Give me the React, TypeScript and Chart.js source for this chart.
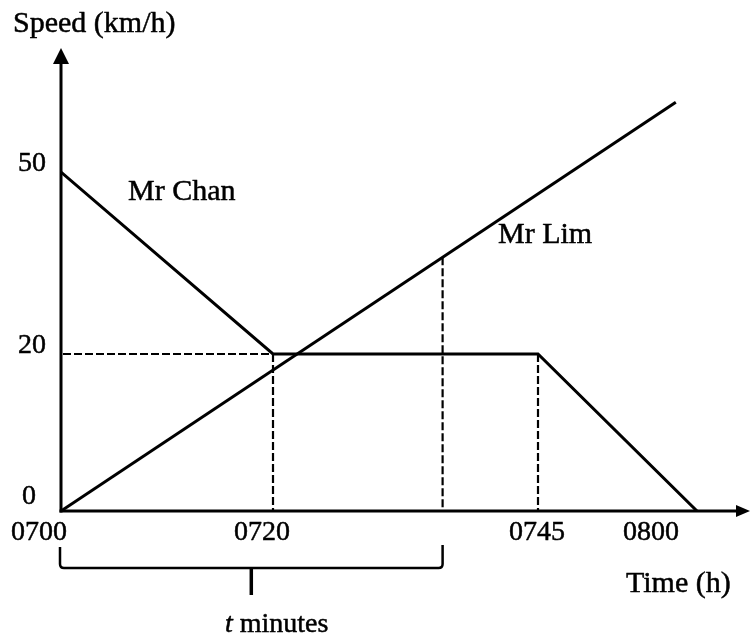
import { useEffect, useRef } from "react";
import { Chart, registerables, LinearScale } from "chart.js";

Chart.register(...registerables);

// ---- data (minutes after 0700, speed in km/h) ----
const chanTimes = [0, 20, 45, 60];
const chanSpeeds = [50, 20, 20, 0];
const limTimes = [0, 58];
const limSpeeds = [0, 61.5];
const tMinutes = 36;
const yTickValues = [0, 20, 50];
const yTickLabels = ["0", "20", "50"];
const xTickValues = [0, 20, 45, 60];
const xTickLabels = ["0700", "0720", "0745", "0800"];
const yTitle = "Speed (km/h)";
const xTitle = "Time (h)";
const seriesNames = ["Mr Chan", "Mr Lim"];
const bracketText = ["t", " minutes"];

// ---- the sketch is not drawn to scale: piecewise speed axis ----
const warpBreak = 20;
const warpLow = 23.16 / 20;
const warpHigh = 0.8947;
function warp(v: number) {
  return v <= warpBreak ? v * warpLow : warpBreak * warpLow + (v - warpBreak) * warpHigh;
}
function unwarp(w: number) {
  const b = warpBreak * warpLow;
  return w <= b ? w / warpLow : warpBreak + (w - b) / warpHigh;
}

class SketchScale extends LinearScale {
  static id = "sketch";
  static defaults = {};
  getPixelForValue(value: any) {
    return super.getPixelForValue(value == null ? value : warp(value));
  }
  getValueForPixel(pixel: number) {
    return unwarp(super.getValueForPixel(pixel) as number);
  }
}
Chart.register(SketchScale as any);

// ---- layout / style ----
const FAMILY = '"Liberation Serif", "Times New Roman", serif';
const FONT_TEXT = "30px " + FAMILY;
const FONT_NUM = "28px " + FAMILY;
const FONT_ITALIC = "italic 28px " + FAMILY;
const yLabelDx = [-25, -15, -15];
const yLabelDy = [-14, -8, -8];
const xLabelDx = [-22, -11, -1, -46];
const xLabelDy = 29;

function ink(ctx: CanvasRenderingContext2D, s: string, px: number, py: number) {
  ctx.fillText(s, px, py);
  ctx.strokeText(s, px, py);
}

const sketchPlugin = {
  id: "sketchDecor",
  beforeDatasetsDraw(chart: any) {
    const { ctx, chartArea, scales } = chart;
    const x = scales.x;
    const y = scales.y;
    const x0 = x.getPixelForValue(0);
    const y0 = y.getPixelForValue(0);
    ctx.save();
    ctx.strokeStyle = "#000";
    ctx.fillStyle = "#000";
    ctx.lineWidth = 3;
    ctx.lineCap = "butt";
    // y axis
    ctx.beginPath();
    ctx.moveTo(x0, y0 + 1.5);
    ctx.lineTo(x0, chartArea.top + 12);
    ctx.stroke();
    ctx.beginPath();
    ctx.moveTo(x0, chartArea.top);
    ctx.lineTo(x0 - 8, chartArea.top + 16);
    ctx.lineTo(x0 + 8, chartArea.top + 16);
    ctx.closePath();
    ctx.fill();
    // x axis
    ctx.beginPath();
    ctx.moveTo(x0 - 1.5, y0);
    ctx.lineTo(chartArea.right - 10, y0);
    ctx.stroke();
    ctx.beginPath();
    ctx.moveTo(chartArea.right, y0);
    ctx.lineTo(chartArea.right - 14, y0 - 6);
    ctx.lineTo(chartArea.right - 14, y0 + 6);
    ctx.closePath();
    ctx.fill();

    // dashed guide lines
    ctx.setLineDash([8, 3]);
    ctx.lineWidth = 2.2;
    const yFlat = y.getPixelForValue(chanSpeeds[1]);
    const xA = x.getPixelForValue(chanTimes[1]);
    const xB = x.getPixelForValue(chanTimes[2]);
    ctx.beginPath();
    ctx.moveTo(x0 + 2, yFlat);
    ctx.lineTo(xA, yFlat);
    ctx.moveTo(xA, yFlat);
    ctx.lineTo(xA, y0);
    ctx.moveTo(xB, yFlat);
    ctx.lineTo(xB, y0);
    // t line up to Mr Lim
    const p0x = x.getPixelForValue(limTimes[0]);
    const p0y = y.getPixelForValue(limSpeeds[0]);
    const p1x = x.getPixelForValue(limTimes[1]);
    const p1y = y.getPixelForValue(limSpeeds[1]);
    const xt = x.getPixelForValue(tMinutes);
    const yt = p0y + ((xt - p0x) / (p1x - p0x)) * (p1y - p0y);
    ctx.moveTo(xt, yt);
    ctx.lineTo(xt, y0);
    ctx.stroke();
    ctx.restore();
  },
  afterDraw(chart: any) {
    const { ctx, scales } = chart;
    const x = scales.x;
    const y = scales.y;
    const x0 = x.getPixelForValue(0);
    const y0 = y.getPixelForValue(0);
    ctx.save();
    ctx.fillStyle = "#000";
    ctx.strokeStyle = "#000";
    ctx.lineWidth = 0.5;
    ctx.lineJoin = "round";

    // y tick labels
    ctx.font = FONT_NUM;
    ctx.textAlign = "right";
    ctx.textBaseline = "middle";
    yTickValues.forEach((v, i) => {
      ink(ctx, yTickLabels[i], x0 + yLabelDx[i], y.getPixelForValue(v) + yLabelDy[i]);
    });
    // x tick labels
    ctx.textAlign = "center";
    ctx.textBaseline = "alphabetic";
    xTickValues.forEach((v, i) => {
      ink(ctx, xTickLabels[i], x.getPixelForValue(v) + xLabelDx[i], y0 + xLabelDy);
    });

    // titles
    ctx.font = FONT_TEXT;
    ctx.textAlign = "left";
    ink(ctx, yTitle, 13, 32);
    ink(ctx, xTitle, 626, 592);
    ink(ctx, seriesNames[0], 128, 200);
    ink(ctx, seriesNames[1], 498, 243);

    // t minutes label
    const tx = 225;
    const ty = 632;
    ctx.font = FONT_ITALIC;
    ink(ctx, bracketText[0], tx, ty);
    const w = ctx.measureText(bracketText[0]).width;
    ctx.font = FONT_NUM;
    ink(ctx, bracketText[1], tx + w, ty);

    // bracket for t minutes
    const bl = x0 - 1;
    const br = x.getPixelForValue(tMinutes);
    const bTop = y0 + 36;
    const bBot = y0 + 57;
    const bMid = (bl + br) / 2;
    ctx.lineJoin = "miter";
    ctx.lineWidth = 2.5;
    ctx.beginPath();
    ctx.moveTo(bl, bTop);
    ctx.lineTo(bl, bBot - 4);
    ctx.quadraticCurveTo(bl, bBot, bl + 4, bBot);
    ctx.lineTo(br - 4, bBot);
    ctx.quadraticCurveTo(br, bBot, br, bBot - 4);
    ctx.lineTo(br, bTop - 2);
    ctx.stroke();
    ctx.lineWidth = 3.5;
    ctx.beginPath();
    ctx.moveTo(bMid, bBot);
    ctx.lineTo(bMid, y0 + 84);
    ctx.stroke();
    ctx.restore();
  },
};

export default function App() {
  const canvasRef = useRef<HTMLCanvasElement | null>(null);
  useEffect(() => {
    const canvas = canvasRef.current;
    if (!canvas) return;
    const chart = new Chart(canvas, {
      type: "line",
      data: {
        datasets: [
          {
            label: seriesNames[0],
            data: chanTimes.map((t, i) => ({ x: t, y: chanSpeeds[i] })),
            borderColor: "#000",
            borderWidth: 3,
            pointRadius: 0,
            tension: 0,
            fill: false,
            borderJoinStyle: "miter",
          },
          {
            label: seriesNames[1],
            data: limTimes.map((t, i) => ({ x: t, y: limSpeeds[i] })),
            borderColor: "#000",
            borderWidth: 3,
            pointRadius: 0,
            tension: 0,
            fill: false,
          },
        ],
      },
      options: {
        animation: false,
        responsive: false,
        events: [],
        layout: { padding: { left: 61, right: 1, top: 48, bottom: 128 } },
        scales: {
          x: { type: "linear", min: 0, max: 65, display: false, bounds: "data" },
          y: { type: "sketch" as any, min: 0, max: 68.3, display: false, bounds: "data" } as any,
        },
        plugins: {
          legend: { display: false },
          tooltip: { enabled: false },
        },
      } as any,
      plugins: [sketchPlugin],
    });
    let alive = true;
    const fonts = (document as any).fonts;
    if (fonts && fonts.load) {
      Promise.all([fonts.load(FONT_TEXT), fonts.load(FONT_ITALIC)])
        .then(() => {
          if (alive) chart.draw();
        })
        .catch(() => {});
    }
    return () => {
      alive = false;
      chart.destroy();
    };
  }, []);

  return (
    <div style={{ position: "fixed", left: 0, top: 0, width: 751, height: 639, background: "#fff" }}>
      <canvas ref={canvasRef} width={751} height={639} style={{ display: "block" }} />
    </div>
  );
}
